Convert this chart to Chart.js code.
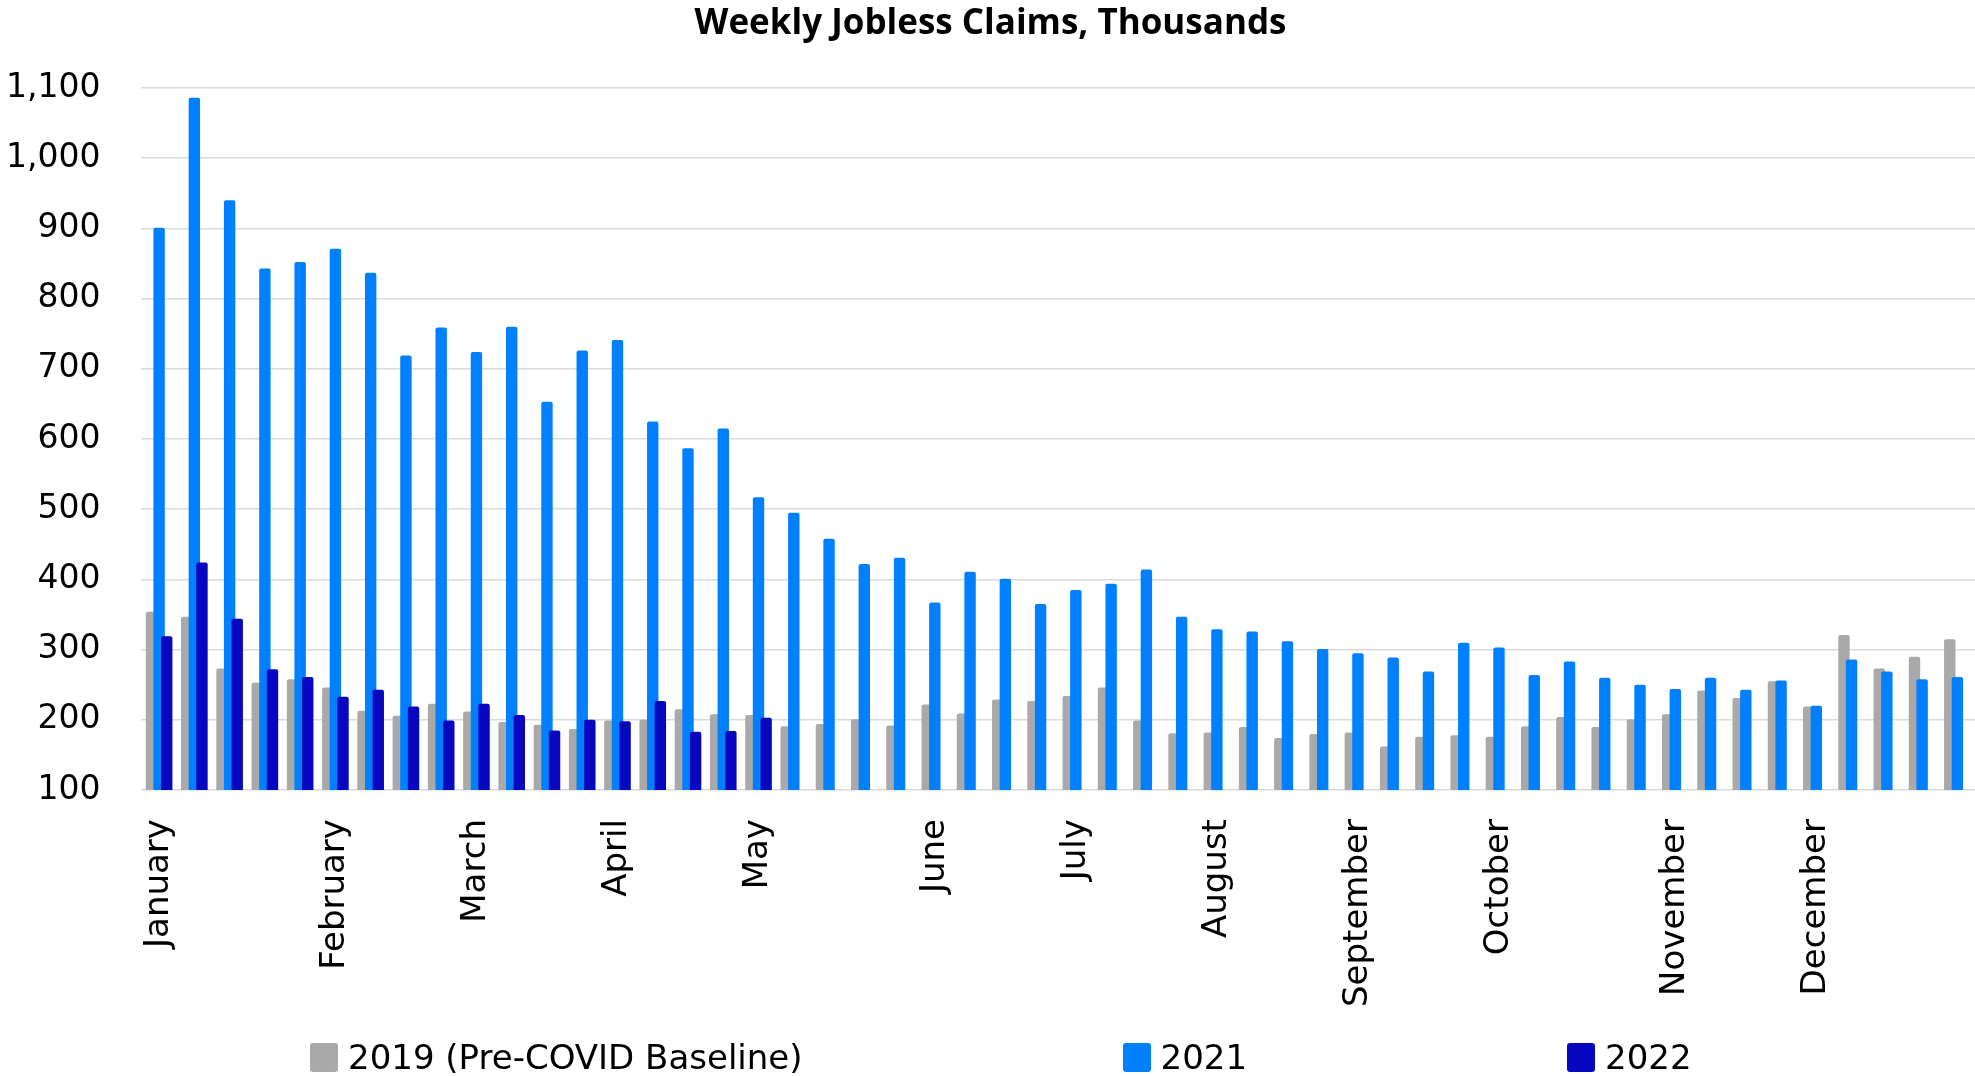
<!DOCTYPE html>
<html>
<head>
<meta charset="utf-8">
<title>Weekly Jobless Claims</title>
<script src="https://cdn.jsdelivr.net/npm/chart.js@4.4.1/dist/chart.umd.min.js"></script>
<style>
  body { margin: 0; background: #fff; }
  #wrap { position: relative; width: 1975px; height: 1076px; }
  #legend {
    position: absolute; left: 310px; top: 1038px; height: 38px;
    display: flex; align-items: center; gap: 320px;
    font-family: 'DejaVu Sans', sans-serif; font-size: 34px; color: #000;
  }
  #legend .item { display: flex; align-items: center; white-space: nowrap; }
  #legend .swatch { width: 28px; height: 29px; border-radius: 3px; margin-right: 10px; }
</style>
</head>
<body>
<div id="wrap">
  <canvas id="claimsChart"></canvas>
  <div id="legend"></div>
</div>
<script>
// one label per week, month name on the first week of each month
const weekLabels = [
    'January', '', '', '', '',
    'February', '', '', '',
    'March', '', '', '',
    'April', '', '', '',
    'May', '', '', '', '',
    'June', '', '', '',
    'July', '', '', '',
    'August', '', '', '',
    'September', '', '', '',
    'October', '', '', '', '',
    'November', '', '', '',
    'December', '', '', '', ''
];

// thousands of initial claims per week
const claims2019 = [354, 347, 273, 253, 258, 246, 213, 206, 223, 212, 197, 193, 187, 199, 200, 215, 208, 207,
    191, 194, 201, 192, 222, 209, 229, 227, 234, 246, 199, 181, 182, 190, 174, 180, 182, 162,
    176, 178, 176, 191, 204, 190, 201, 208, 242, 231, 255, 219, 321, 273, 290, 315];
const claims2021 = [901, 1086, 940, 843, 852, 871, 837, 719, 759, 724, 760, 653, 726, 741, 625, 587, 615, 517,
    495, 458, 422, 431, 367, 411, 401, 365, 385, 394, 414, 347, 329, 326, 312, 301, 295, 289,
    269, 310, 303, 264, 283, 260, 250, 244, 260, 243, 256, 220, 286, 269, 258, 261];
const claims2022 = [319, 424, 344, 272, 261, 233, 243, 219, 199, 223, 207, 185, 200, 198, 227, 183, 184, 203];

const yTicks = { min: 100, max: 1100, step: 100 };

// the original paints 2019 first and 2022 last, so the later year sits on top
const paintInOrder = {
    id: 'paintInOrder',
    beforeDatasetsDraw(chart) {
        const { ctx, chartArea: a } = chart;
        ctx.save();
        ctx.beginPath();
        ctx.rect(a.left, a.top, a.right - a.left, a.bottom - a.top);
        ctx.clip();
        chart.data.datasets.forEach((ds, i) => chart.getDatasetMeta(i).controller.draw());
        ctx.restore();
        return false;
    }
};

Chart.defaults.font.family = "'DejaVu Sans', sans-serif";
Chart.defaults.color = '#000';

const ctx = document.getElementById('claimsChart').getContext('2d');
const claimsChart = new Chart(ctx, {
    type: 'bar',
    data: {
        labels: weekLabels,
        datasets: [
            { label: '2019 (Pre-COVID Baseline)', data: claims2019, backgroundColor: '#a9a9a9' },
            { label: '2021', data: claims2021, backgroundColor: '#0080ff' },
            { label: '2022', data: claims2022, backgroundColor: '#0707c0' }
        ]
    },
    options: {
        responsive: true,
        maintainAspectRatio: false,
        animation: false,
        categoryPercentage: 0.647,
        barPercentage: 1.5,
        borderRadius: 2,
        layout: { padding: { left: 6, right: 0, top: 0, bottom: 69 } },
        plugins: {
            legend: { display: false },
            tooltip: { enabled: false },
            title: {
                display: true,
                text: 'Weekly Jobless Claims, Thousands',
                font: { family: "'Open Sans', sans-serif", size: 35, weight: 'bold' },
                padding: { top: 3, bottom: 43 }
            }
        },
        scales: {
            x: {
                grid: { display: false, drawTicks: false },
                border: { display: false },
                ticks: { autoSkip: false, maxRotation: 90, minRotation: 90, padding: 29, font: { size: 34 } },
                // chart.js pads both sides of the labels; keep only the inner gap
                afterFit(scale) {
                    scale.height -= scale.options.ticks.padding;
                    scale.paddingLeft = 0;
                    scale.paddingRight = 0;
                }
            },
            y: {
                min: yTicks.min,
                max: yTicks.max,
                grid: { color: '#d9d9d9', lineWidth: 1.5, drawTicks: false },
                border: { display: false },
                ticks: { stepSize: yTicks.step, padding: 41, font: { size: 33 } },
                afterFit(scale) {
                    scale.width -= scale.options.ticks.padding;
                }
            }
        }
    },
    plugins: [paintInOrder]
});

// legend spread out under the plot like the original
const legendBox = document.getElementById('legend');
claimsChart.data.datasets.forEach(ds => {
    const item = document.createElement('div');
    item.className = 'item';
    const swatch = document.createElement('span');
    swatch.className = 'swatch';
    swatch.style.background = ds.backgroundColor;
    item.appendChild(swatch);
    item.appendChild(document.createTextNode(ds.label));
    legendBox.appendChild(item);
});
</script>
</body>
</html>
